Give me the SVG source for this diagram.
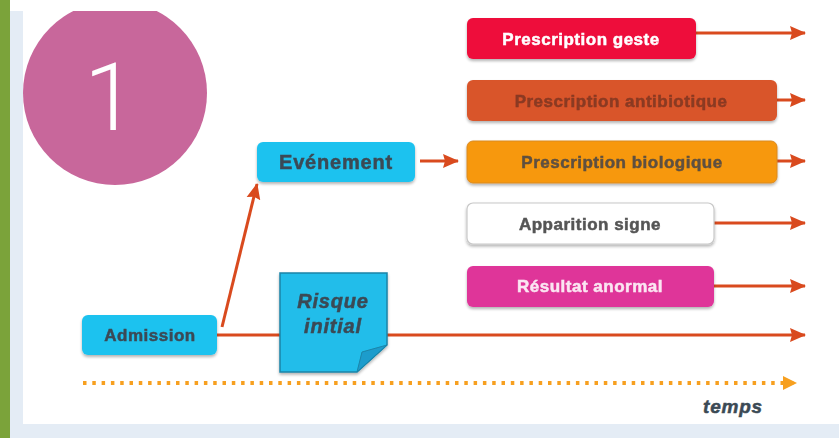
<svg xmlns="http://www.w3.org/2000/svg" width="839" height="438" viewBox="0 0 839 438">
<defs>
<style>
.t{font-family:"Liberation Sans",Arial,sans-serif;font-weight:bold;font-size:17px;letter-spacing:0.5px;text-anchor:middle;stroke-width:0.5px}
.conn{stroke:#d94a1e;stroke-width:3;fill:none;marker-end:url(#ah)}
</style>
<clipPath id="top"><rect x="0" y="11" width="839" height="427"/></clipPath>
<marker id="ah" markerUnits="userSpaceOnUse" markerWidth="16" markerHeight="16" viewBox="0 0 16 16" refX="15" refY="8" orient="auto">
<path d="M0,1 L16,8 L0,15 L2,8 Z" fill="#d94a1e"/>
</marker>
<marker id="ahy" markerUnits="userSpaceOnUse" markerWidth="14" markerHeight="16" viewBox="0 0 14 16" refX="13" refY="8" orient="auto">
<path d="M0,1 L14,8 L0,15 Z" fill="#f7a020"/>
</marker>
<filter id="sh" x="-10%" y="-20%" width="120%" height="150%">
<feGaussianBlur in="SourceAlpha" stdDeviation="1.5"/>
<feOffset dy="1.5"/>
<feComponentTransfer><feFuncA type="linear" slope="0.3"/></feComponentTransfer>
<feMerge><feMergeNode/><feMergeNode in="SourceGraphic"/></feMerge>
</filter>
</defs>
<rect x="0" y="0" width="839" height="438" fill="#ffffff"/>
<rect x="10" y="11" width="13" height="427" fill="#e4ecf5"/>
<rect x="10" y="424" width="829" height="14" fill="#e4ecf5"/>
<rect x="0" y="0" width="10" height="438" fill="#7ba33a"/>

<g id="badge" clip-path="url(#top)">
<circle cx="115" cy="93" r="92" fill="#c8679b"/>
<text x="110" y="130" font-family="Roboto,'Liberation Sans',Arial,sans-serif" font-size="94" font-weight="300" fill="#ffffff" text-anchor="middle">1</text>
</g>

<g id="connectors">
<line class="conn" x1="222" y1="327" x2="257" y2="184"/>
<line class="conn" x1="217" y1="335" x2="805" y2="335"/>
<line class="conn" x1="420" y1="161" x2="458" y2="161"/>
<line class="conn" x1="696" y1="33" x2="805" y2="33"/>
<line class="conn" x1="777" y1="100" x2="805" y2="100"/>
<line class="conn" x1="777" y1="161" x2="805" y2="161"/>
<line class="conn" x1="714" y1="223" x2="805" y2="223"/>
<line class="conn" x1="714" y1="286" x2="805" y2="286"/>
<line x1="83" y1="383" x2="796" y2="383" stroke="#f7a020" stroke-width="4" stroke-dasharray="3.5 5.8" marker-end="url(#ahy)"/>
</g>

<g id="admission" filter="url(#sh)">
<rect x="82" y="315" width="135" height="40" rx="6" fill="#1ec2ef"/>
<text class="t" x="150" y="341" fill="#3b4a55" stroke="#3b4a55">Admission</text>
</g>

<g id="evenement" filter="url(#sh)">
<rect x="257" y="142" width="158" height="40" rx="6" fill="#1ec2ef"/>
<text class="t" x="336" y="169" fill="#3b4a55" stroke="#3b4a55" style="font-size:20px;letter-spacing:0.8px">Evénement</text>
</g>

<g id="risque" filter="url(#sh)">
<path d="M280,273 H387 V345 L357,372 H280 Z" fill="#22bdea" stroke="#1a84a8" stroke-width="1.5"/>
<path d="M387,345 L357,372 L362,352 Z" fill="#1a9ccc" stroke="#1a84a8" stroke-width="1"/>
<text class="t" x="333" y="308" fill="#3b4a55" stroke="#3b4a55" style="font-size:20px;font-style:italic;letter-spacing:0.8px">Risque</text>
<text class="t" x="333" y="333" fill="#3b4a55" stroke="#3b4a55" style="font-size:20px;font-style:italic;letter-spacing:0.8px">initial</text>
</g>

<g id="geste" filter="url(#sh)">
<rect x="467" y="18" width="229" height="41" rx="6" fill="#ee0a3a"/>
<text class="t" x="581" y="45" fill="#ffffff" stroke="#ffffff">Prescription geste</text>
</g>

<g id="antibiotique" filter="url(#sh)">
<rect x="467" y="80" width="310" height="41" rx="6" fill="#d9542b"/>
<text class="t" x="621" y="107" fill="#8a3a22" stroke="#8a3a22">Prescription antibiotique</text>
</g>

<g id="biologique" filter="url(#sh)">
<rect x="467" y="141" width="310" height="42" rx="6" fill="#f7980c" stroke="#d98a20" stroke-width="1"/>
<text class="t" x="622" y="168" fill="#5e5040" stroke="#5e5040">Prescription biologique</text>
</g>

<g id="signe" filter="url(#sh)">
<rect x="467" y="203" width="247" height="41" rx="6" fill="#ffffff" stroke="#c8c8c8" stroke-width="1.2"/>
<text class="t" x="590" y="230" fill="#555555" stroke="#555555">Apparition signe</text>
</g>

<g id="anormal" filter="url(#sh)">
<rect x="467" y="266" width="247" height="41" rx="6" fill="#df3599"/>
<text class="t" x="590" y="292" fill="#fbe6f2" stroke="#fbe6f2">Résultat anormal</text>
</g>

<g id="temps">
<text class="t" x="733" y="413" fill="#3b4a55" stroke="#3b4a55" style="font-size:19px;font-style:italic;letter-spacing:0.8px">temps</text>
</g>
</svg>
